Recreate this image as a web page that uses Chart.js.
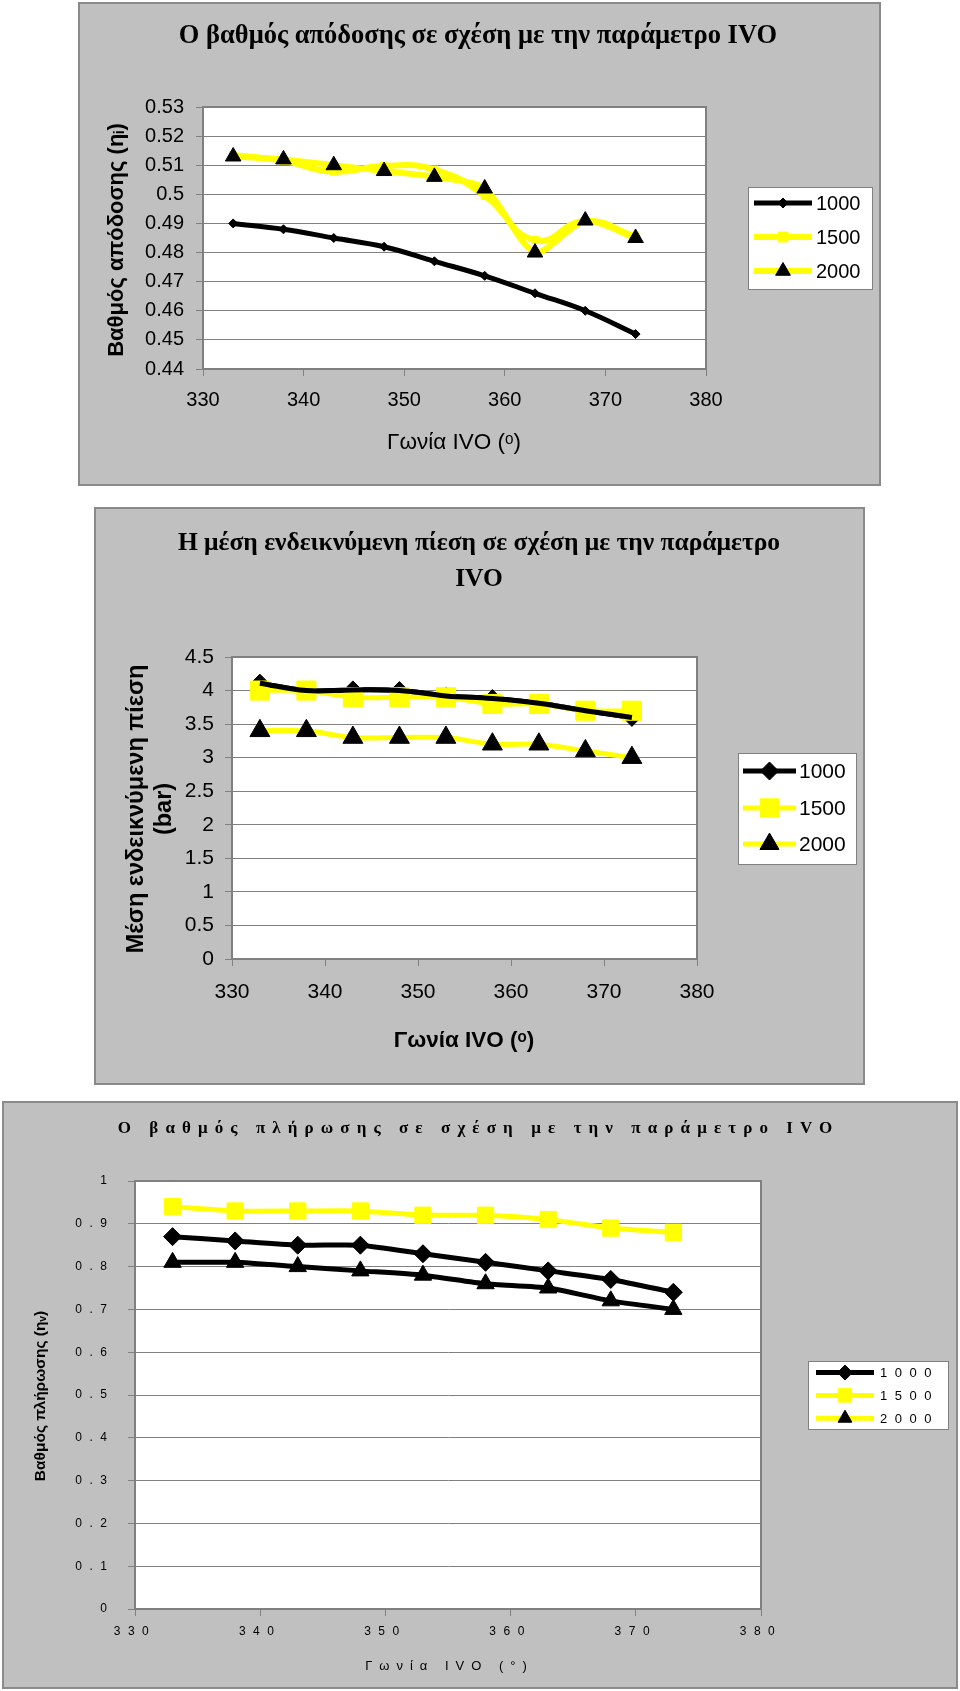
<!DOCTYPE html>
<html>
<head>
<meta charset="utf-8">
<script src="https://cdn.jsdelivr.net/npm/chart.js@4.4.1/dist/chart.umd.min.js"></script>
<style>
body { margin: 0; background: #fff; width: 960px; height: 1691px; position: relative; overflow: hidden; }
.panel { position: absolute; box-sizing: border-box; border: 2px solid #8a8a8a; background: #c0c0c0; }
.panel canvas { position: absolute; left: -2px; top: -2px; }
</style>
</head>
<body>
<div class="panel" style="left:78px;top:2px;width:803px;height:484px"><canvas id="effChart" width="803" height="484"></canvas></div>
<div class="panel" style="left:94px;top:507px;width:771px;height:578px"><canvas id="imepChart" width="771" height="578"></canvas></div>
<div class="panel" style="left:2px;top:1101px;width:956px;height:588px"><canvas id="volChart" width="956" height="588"></canvas></div>
<script>
// IVO angle (deg) on x, three engine speeds (rpm)
const ivoAngles = [333, 338, 343, 348, 353, 358, 363, 368, 373];
const speedLabels = ['1000', '1500', '2000'];
const angleTicks = [330, 340, 350, 360, 370, 380];

// βαθμός απόδοσης
const eff1000 = [0.490, 0.488, 0.485, 0.482, 0.477, 0.472, 0.466, 0.460, 0.452];
const eff1500 = [0.5135, 0.5115, 0.5078, 0.5098, 0.5085, 0.4995, 0.4843, 0.4908, 0.4855];
const eff2000 = [0.513, 0.512, 0.510, 0.508, 0.506, 0.502, 0.480, 0.491, 0.485];
const effTicks = [0.44, 0.45, 0.46, 0.47, 0.48, 0.49, 0.5, 0.51, 0.52, 0.53];

// μέση ενδεικνύμενη πίεση (bar)
const imep1000 = [4.11, 4.0, 4.01, 4.0, 3.92, 3.88, 3.81, 3.7, 3.6];
const imep1500 = [4.0, 4.0, 3.9, 3.9, 3.9, 3.8, 3.8, 3.7, 3.7];
const imep2000 = [3.4, 3.4, 3.3, 3.3, 3.3, 3.2, 3.2, 3.1, 3.0];
const imepTicks = [0, 0.5, 1, 1.5, 2, 2.5, 3, 3.5, 4, 4.5];

// βαθμός πλήρωσης
const vol1000 = [0.87, 0.86, 0.85, 0.85, 0.83, 0.81, 0.79, 0.77, 0.74];
const vol1500 = [0.94, 0.93, 0.93, 0.93, 0.92, 0.92, 0.91, 0.89, 0.88];
const vol2000 = [0.81, 0.81, 0.80, 0.79, 0.78, 0.76, 0.75, 0.72, 0.70];
const volTicks = [0, 0.1, 0.2, 0.3, 0.4, 0.5, 0.6, 0.7, 0.8, 0.9, 1];

const BLACK = '#000000';
const YELLOW = '#ffff00';
const GREY = '#808080';
const SANS = '"Liberation Sans", Arial, sans-serif';
const SERIF = '"Liberation Serif", "Times New Roman", serif';

function points(ys) {
    return ivoAngles.map((x, i) => ({x: x, y: ys[i]}));
}

// white plot area with grey frame, like the spreadsheet chart
const plotFrame = {
    id: 'plotFrame',
    beforeDraw(chart) {
        const a = chart.chartArea, ctx = chart.ctx;
        ctx.save();
        ctx.fillStyle = '#ffffff';
        ctx.fillRect(a.left, a.top, a.right - a.left, a.bottom - a.top);
        ctx.restore();
    },
    beforeDatasetsDraw(chart) {
        const a = chart.chartArea, ctx = chart.ctx;
        ctx.save();
        ctx.strokeStyle = GREY;
        ctx.lineWidth = 2;
        ctx.strokeRect(a.left, a.top, a.right - a.left, a.bottom - a.top);
        ctx.restore();
    }
};

function captions(items) {
    return {
        id: 'captions',
        afterDraw(chart) {
            const ctx = chart.ctx;
            items.forEach(it => {
                ctx.save();
                ctx.font = it.font;
                ctx.fillStyle = BLACK;
                ctx.textAlign = 'center';
                ctx.textBaseline = 'middle';
                const sp = it.spacing || 0;
                ctx.letterSpacing = sp + 'px';
                ctx.translate(it.x, it.y);
                if (it.rotation) ctx.rotate(it.rotation);
                ctx.fillText(it.text, sp / 2, 0);
                ctx.restore();
            });
        }
    };
}

function boxLegend(cfg) {
    return {
        id: 'boxLegend',
        afterDraw(chart) {
            const ctx = chart.ctx;
            ctx.save();
            ctx.fillStyle = '#ffffff';
            ctx.fillRect(cfg.x, cfg.y, cfg.w, cfg.h);
            ctx.strokeStyle = GREY;
            ctx.lineWidth = 1;
            ctx.strokeRect(cfg.x + 0.5, cfg.y + 0.5, cfg.w, cfg.h);
            chart.data.datasets.forEach((ds, i) => {
                const y = cfg.rows[i];
                ctx.strokeStyle = ds.legendColor || ds.borderColor;
                ctx.lineWidth = ds.borderWidth;
                ctx.beginPath();
                ctx.moveTo(cfg.x1, y);
                ctx.lineTo(cfg.x2, y);
                ctx.stroke();
                ctx.fillStyle = ds.pointBackgroundColor;
                ctx.strokeStyle = ds.pointBorderColor;
                ctx.lineWidth = 1;
                Chart.helpers.drawPoint(ctx, {pointStyle: ds.pointStyle, rotation: 0, radius: ds.legendRadius, borderWidth: 1}, (cfg.x1 + cfg.x2) / 2, y);
                ctx.fillStyle = BLACK;
                ctx.font = cfg.font;
                ctx.letterSpacing = (cfg.spacing || 0) + 'px';
                ctx.textAlign = 'left';
                ctx.textBaseline = 'middle';
                ctx.fillText(ds.label, cfg.tx, y + 1);
            });
            ctx.restore();
        }
    };
}

function scalesFor(p) {
    return {
        x: {
            type: 'linear',
            min: angleTicks[0],
            max: angleTicks[angleTicks.length - 1],
            afterFit: s => { s.height = p.xHeight; },
            afterBuildTicks: s => { s.ticks = angleTicks.map(v => ({value: v})); },
            ticks: {color: BLACK, font: p.tickFont, padding: p.xPad, maxRotation: 0, autoSkip: false, callback: v => String(v)},
            grid: {drawOnChartArea: false, drawTicks: true, tickLength: 7, color: GREY},
            border: {display: true, color: GREY, width: 2}
        },
        y: {
            type: 'linear',
            min: p.yTicks[0],
            max: p.yTicks[p.yTicks.length - 1],
            afterFit: s => { s.width = p.yWidth; },
            afterBuildTicks: s => { s.ticks = p.yTicks.map(v => ({value: v})); },
            ticks: {color: BLACK, font: p.tickFont, padding: p.yPad, autoSkip: false, callback: v => String(v)},
            grid: {color: GREY, lineWidth: 1, tickLength: 7, drawTicks: true},
            border: {display: true, color: GREY, width: 2}
        }
    };
}

const baseOptions = (p) => ({
    responsive: false,
    animation: false,
    events: [],
    layout: {padding: {left: 0, top: p.top, right: p.right, bottom: 0}},
    plugins: {legend: {display: false}, tooltip: {enabled: false}, title: {display: false}},
    scales: scalesFor(p)
});

// ---- Chart 1: βαθμός απόδοσης ----
new Chart(document.getElementById('effChart'), {
    type: 'line',
    data: {
        datasets: [
            {label: speedLabels[0], data: points(eff1000), borderColor: BLACK, borderWidth: 5, tension: 0.4,
             pointStyle: 'rectRot', pointRadius: 4.5, pointBackgroundColor: BLACK, pointBorderColor: BLACK, pointBorderWidth: 1,
             legendRadius: 5, order: 1},
            {label: speedLabels[1], data: points(eff1500), borderColor: YELLOW, borderWidth: 6, tension: 0.5,
             pointStyle: 'rect', pointRadius: 5, pointBackgroundColor: YELLOW, pointBorderColor: YELLOW, pointBorderWidth: 1,
             legendRadius: 7, order: 2},
            {label: speedLabels[2], data: points(eff2000), borderColor: YELLOW, borderWidth: 6, tension: 0.25,
             pointStyle: 'triangle', pointRadius: 9, pointBackgroundColor: BLACK, pointBorderColor: BLACK, pointBorderWidth: 1,
             legendRadius: 8.5, order: 0}
        ]
    },
    options: baseOptions({top: 105, right: 175, yWidth: 125, xHeight: 117, yPad: 12, xPad: 12,
                          tickFont: {family: SANS, size: 20}, yTicks: effTicks}),
    plugins: [plotFrame,
        captions([
            {text: 'Ο βαθμός απόδοσης σε σχέση με την παράμετρο IVO', x: 400, y: 34.5, font: 'bold 26.5px ' + SERIF},
            {text: 'Βαθμός απόδοσης (ηᵢ)', x: 38.7, y: 238, rotation: -Math.PI / 2, font: 'bold 22px ' + SANS},
            {text: 'Γωνία IVO (ᵒ)', x: 376, y: 441, font: '22.5px ' + SANS}
        ]),
        boxLegend({x: 670, y: 185, w: 124, h: 102, rows: [201, 235, 269], x1: 676, x2: 734, tx: 738, font: '20px ' + SANS})]
});

// ---- Chart 2: μέση ενδεικνύμενη πίεση ----
const lineOnTop = {
    id: 'lineOnTop',
    afterDatasetsDraw(chart) {
        chart.getDatasetMeta(0).dataset.draw(chart.ctx, chart.chartArea);
    }
};

new Chart(document.getElementById('imepChart'), {
    type: 'line',
    data: {
        datasets: [
            {label: speedLabels[0], data: points(imep1000), borderColor: BLACK, borderWidth: 5, tension: 0.4,
             pointStyle: 'rectRot', pointRadius: 9, pointBackgroundColor: BLACK, pointBorderColor: BLACK, pointBorderWidth: 1,
             legendRadius: 9, order: 2},
            {label: speedLabels[1], data: points(imep1500), borderColor: YELLOW, borderWidth: 5, tension: 0.3,
             pointStyle: 'rect', pointRadius: 13.5, pointBackgroundColor: YELLOW, pointBorderColor: YELLOW, pointBorderWidth: 1,
             legendRadius: 13, order: 1},
            {label: speedLabels[2], data: points(imep2000), borderColor: YELLOW, borderWidth: 5, tension: 0.3,
             pointStyle: 'triangle', pointRadius: 11.5, pointBackgroundColor: BLACK, pointBorderColor: BLACK, pointBorderWidth: 1,
             legendRadius: 11, order: 0}
        ]
    },
    options: baseOptions({top: 150, right: 168, yWidth: 138, xHeight: 126, yPad: 11, xPad: 14,
                          tickFont: {family: SANS, size: 21}, yTicks: imepTicks}),
    plugins: [plotFrame, lineOnTop,
        captions([
            {text: 'Η μέση ενδεικνύμενη πίεση σε σχέση με την παράμετρο', x: 385, y: 36, font: 'bold 25.5px ' + SERIF},
            {text: 'IVO', x: 385, y: 72, font: 'bold 25.5px ' + SERIF},
            {text: 'Μέση ενδεικνύμενη πίεση', x: 43, y: 302, rotation: -Math.PI / 2, font: 'bold 23.5px ' + SANS},
            {text: '(bar)', x: 70.6, y: 302, rotation: -Math.PI / 2, font: 'bold 23.5px ' + SANS},
            {text: 'Γωνία IVO (ᵒ)', x: 370, y: 534, font: 'bold 22.5px ' + SANS}
        ]),
        boxLegend({x: 644, y: 246, w: 118, h: 111, rows: [264, 301, 337], x1: 649, x2: 702, tx: 705, font: '21px ' + SANS})]
});

// ---- Chart 3: βαθμός πλήρωσης ----
const spacedTicks = {
    id: 'spacedTicks',
    beforeUpdate(chart) { chart.ctx.letterSpacing = '7.5px'; },
    beforeDraw(chart) { chart.ctx.letterSpacing = '7.5px'; }
};

new Chart(document.getElementById('volChart'), {
    type: 'line',
    data: {
        datasets: [
            {label: speedLabels[0], data: points(vol1000), borderColor: BLACK, borderWidth: 5, tension: 0.2,
             pointStyle: 'rectRot', pointRadius: 9, pointBackgroundColor: BLACK, pointBorderColor: BLACK, pointBorderWidth: 1,
             legendRadius: 7.5},
            {label: speedLabels[1], data: points(vol1500), borderColor: YELLOW, borderWidth: 5, tension: 0.2,
             pointStyle: 'rect', pointRadius: 11.5, pointBackgroundColor: YELLOW, pointBorderColor: YELLOW, pointBorderWidth: 1,
             legendRadius: 9.5},
            {label: speedLabels[2], data: points(vol2000), borderColor: BLACK, legendColor: YELLOW, borderWidth: 5, tension: 0.2,
             pointStyle: 'triangle', pointRadius: 10, pointBackgroundColor: BLACK, pointBorderColor: BLACK, pointBorderWidth: 1,
             legendRadius: 8}
        ]
    },
    options: baseOptions({top: 80, right: 197, yWidth: 133, xHeight: 80, yPad: 13.5, xPad: 8,
                          tickFont: {family: SANS, size: 12}, yTicks: volTicks}),
    plugins: [spacedTicks, plotFrame,
        captions([
            {text: 'Ο βαθμός πλήρωσης σε σχέση με την παράμετρο IVO', x: 473, y: 28, font: 'bold 17px ' + SERIF, spacing: 7.1},
            {text: 'Βαθμός πλήρωσης (ηᵥ)', x: 39, y: 295, rotation: -Math.PI / 2, font: 'bold 15.5px ' + SANS},
            {text: 'Γωνία IVO (°)', x: 444, y: 565, font: '13px ' + SANS, spacing: 7}
        ]),
        boxLegend({x: 806, y: 260, w: 140, h: 68, rows: [271.6, 294.4, 317.2], x1: 814, x2: 872, tx: 878, font: '13px ' + SANS, spacing: 7.5})]
});
</script>
</body>
</html>
